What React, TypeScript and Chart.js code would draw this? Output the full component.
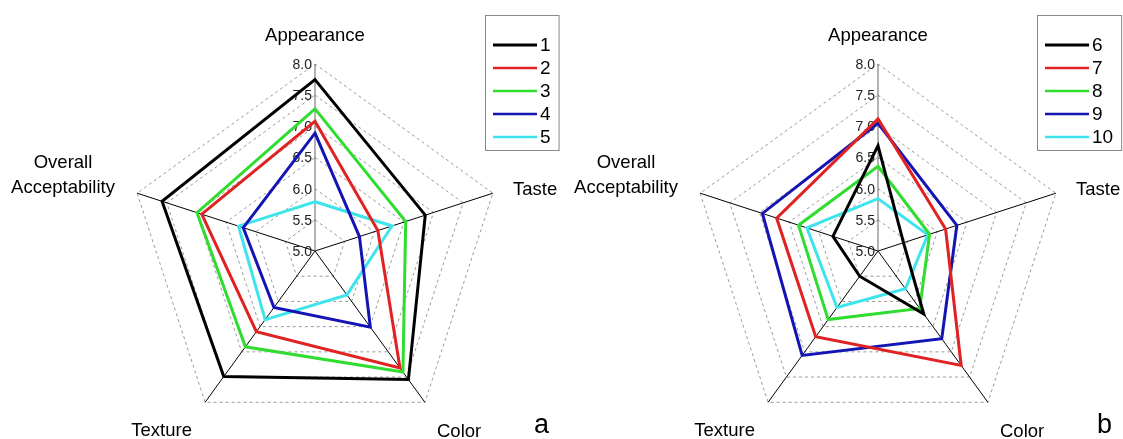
import React, { useEffect, useRef } from "react";
import { Chart, registerables } from "chart.js";

Chart.register(...registerables);

const AXES = ["Appearance", "Taste", "Color", "Texture", "Overall Acceptability"];
const TICK_VALUES = [5.0, 5.5, 6.0, 6.5, 7.0, 7.5, 8.0];

const SERIES_A_NAMES = ["1", "2", "3", "4", "5"];
const S1 = [7.75, 6.86, 7.55, 7.49, 7.58];
const S2 = [7.08, 6.06, 7.32, 6.6, 6.91];
const S3 = [7.28, 6.53, 7.4, 6.9, 6.99];
const S4 = [6.89, 5.75, 6.51, 6.12, 6.21];
const S5 = [5.79, 6.3, 5.87, 6.36, 6.29];

const SERIES_B_NAMES = ["6", "7", "8", "9", "10"];
const S6 = [6.69, 5.43, 6.25, 5.5, 5.76];
const S7 = [7.12, 6.14, 7.27, 6.7, 6.71];
const S8 = [6.36, 5.87, 6.14, 6.36, 6.34];
const S9 = [7.05, 6.33, 6.74, 7.07, 6.95];
const S10 = [5.84, 5.84, 5.75, 6.12, 6.2];

const COLORS = ["#000000", "#e02222", "#2fdc2f", "#1414b4", "#3ee4ec"];
const FONT = '"Liberation Sans", Arial, sans-serif';

type PanelCfg = {
  names: string[];
  series: number[][];
  letter: string;
  padLeft: number;
  legendLeft: number;
};

function makeDecor(cfg: PanelCfg) {
  return {
    id: "decor",
    beforeDatasetsDraw(chart: any) {
      const s = chart.scales.r;
      const ctx = chart.ctx;
      ctx.save();
      ctx.font = `14px ${FONT}`;
      ctx.fillStyle = "#222";
      ctx.textAlign = "right";
      ctx.textBaseline = "middle";
      TICK_VALUES.forEach((v) => {
        const d = s.getDistanceFromCenterForValue(v);
        ctx.fillText(v.toFixed(1), s.xCenter - 3, s.yCenter - d + 1);
      });
      ctx.restore();
    },
    afterDraw(chart: any) {
      const s = chart.scales.r;
      const ctx = chart.ctx;
      const cx = s.xCenter;
      const cy = s.yCenter;
      ctx.save();
      ctx.fillStyle = "#000";
      ctx.textBaseline = "alphabetic";
      ctx.font = `18.5px ${FONT}`;
      // axis labels
      ctx.textAlign = "center";
      ctx.fillText(AXES[0], cx, cy - 210);
      ctx.textAlign = "left";
      ctx.fillText(AXES[1], cx + 198, cy - 56);
      ctx.fillText(AXES[2], cx + 122, cy + 186);
      ctx.textAlign = "right";
      ctx.fillText(AXES[3], cx - 123, cy + 185);
      ctx.textAlign = "center";
      const parts = AXES[4].split(" ");
      ctx.fillText(parts[0], cx - 252, cy - 83);
      ctx.fillText(parts[1], cx - 252, cy - 58);
      // panel letter
      ctx.textAlign = "left";
      ctx.font = `27px ${FONT}`;
      ctx.fillText(cfg.letter, cx + 219, cy + 182);

      // legend
      ctx.font = `19px ${FONT}`;
      const bl = cfg.legendLeft;
      const top = 15;
      const rowY0 = 45;
      const rowGap = 23;
      let maxW = 0;
      cfg.names.forEach((n) => {
        maxW = Math.max(maxW, ctx.measureText(n).width);
      });
      const lineX0 = bl + 8;
      const lineX1 = lineX0 + 44;
      const textX = lineX1 + 3;
      const br = textX + maxW + 8;
      ctx.fillStyle = "#fff";
      ctx.fillRect(bl, top, br - bl, 135);
      ctx.strokeStyle = "#8a8a8a";
      ctx.lineWidth = 1;
      ctx.strokeRect(bl + 0.5, top + 0.5, br - bl, 135);
      cfg.names.forEach((n, i) => {
        const y = rowY0 + i * rowGap;
        ctx.strokeStyle = COLORS[i];
        ctx.lineWidth = i === 0 ? 3 : 2.5;
        ctx.beginPath();
        ctx.moveTo(lineX0, y);
        ctx.lineTo(lineX1, y);
        ctx.stroke();
        ctx.fillStyle = "#000";
        ctx.textAlign = "left";
        ctx.textBaseline = "middle";
        ctx.fillText(n, textX, y + 1);
      });
      ctx.restore();
    },
  };
}

function Panel({ cfg, left }: { cfg: PanelCfg; left: number }) {
  const ref = useRef<HTMLCanvasElement | null>(null);
  useEffect(() => {
    if (!ref.current) return;
    const W = 561;
    const H = 439;
    const size = 374;
    const padTop = 64;
    const chart = new Chart(ref.current, {
      type: "radar",
      data: {
        labels: AXES,
        datasets: cfg.series.map((d, i) => ({
          label: cfg.names[i],
          data: d,
          borderColor: COLORS[i],
          backgroundColor: "transparent",
          borderWidth: 3,
          fill: false,
          pointRadius: 0,
          pointHoverRadius: 0,
          tension: 0,
          borderJoinStyle: "miter" as const,
        })),
      },
      options: {
        responsive: false,
        animation: false,
        devicePixelRatio: 1,
        layout: {
          padding: {
            left: cfg.padLeft,
            right: W - cfg.padLeft - size,
            top: padTop,
            bottom: H - padTop - size,
          },
        },
        plugins: {
          legend: { display: false },
          tooltip: { enabled: false },
        },
        scales: {
          r: {
            min: TICK_VALUES[0],
            max: TICK_VALUES[TICK_VALUES.length - 1],
            ticks: { display: false, stepSize: 0.5 },
            pointLabels: { display: false },
            grid: { color: "#9a9a9a", lineWidth: 1, circular: false },
            border: { dash: [3, 3] },
            angleLines: {
              display: true,
              color: (c: any) => (c.index === 0 ? "#666" : "#000"),
              lineWidth: 1,
            },
          },
        },
      },
      plugins: [makeDecor(cfg)],
    } as any);
    return () => chart.destroy();
  }, [cfg]);
  return (
    <canvas
      ref={ref}
      width={561}
      height={439}
      style={{ position: "absolute", left, top: 0, width: 561, height: 439 }}
    />
  );
}

const CFG_A: PanelCfg = {
  names: SERIES_A_NAMES,
  series: [S1, S2, S3, S4, S5],
  letter: "a",
  padLeft: 128,
  legendLeft: 485,
};
const CFG_B: PanelCfg = {
  names: SERIES_B_NAMES,
  series: [S6, S7, S8, S9, S10],
  letter: "b",
  padLeft: 129,
  legendLeft: 475,
};

export default function App() {
  useEffect(() => {
    document.body.style.margin = "0";
  }, []);
  return (
    <div style={{ position: "relative", width: 1123, height: 439, background: "#fff", overflow: "hidden" }}>
      <Panel cfg={CFG_A} left={0} />
      <Panel cfg={CFG_B} left={562} />
    </div>
  );
}
